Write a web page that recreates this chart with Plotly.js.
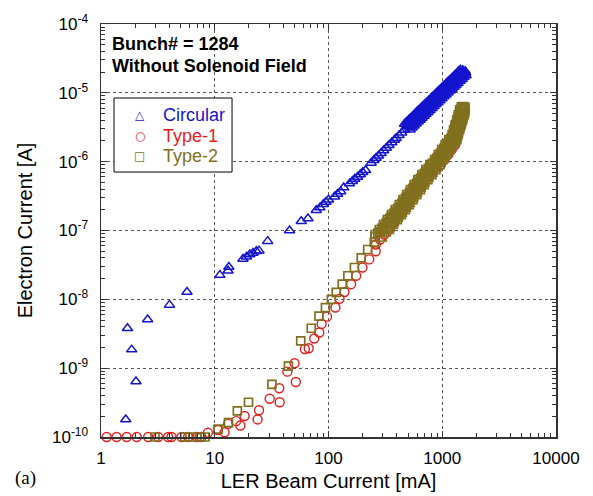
<!DOCTYPE html>
<html>
<head>
<meta charset="utf-8">
<script src="https://cdn.plot.ly/plotly-3.0.1.min.js"></script>
<style>
html,body{margin:0;padding:0;background:#fff;}
#chart{width:593px;height:496px;}
</style>
</head>
<body>
<div id="chart"></div>
<script>
// ---- Data ----
const circularX = [1.65,1.71,1.86,2.03,2.57,4.0,5.7,
  11.1,13.1,13.3,17.7,19.0,20.3,21.7,23.2,24.5,29.2,45.5,57.6,66,
  78,84,90,95,100,113,120,128,136,
  153,162,170,180,190,200,212,
  237,250,262,275,290,305,322,340,360,380,393,417,440,465,
  493,513,535,557,580,604,628,654,681,709,739,769,801,834,868,904,941,980,
  1020,1062,1106,1152,1199,1249,1300,1354,1410,1468,1529,1592,
  466,485,506,526,548,571,593,618,644,670,698,727,757,788,820,854,889,926,964,1004,
  1045,1089,1133,1180,1229,1280,1332,1387,1445,
  522,543,566,589,614,639,664,692,720,750,782,814,847,882,918,956,996,1037,1079,1124,
  1170,1219,1269,1321,1375,1433,1492,1553,1618,
  489,509,531,553,575,599,623,649,676,703,733,763,795,827,861,897,933,972,1012,1054,
  1097,1143,1189,1239,1290,1343,1399,1456,1517,
  518,539,562,585,609,634,659,687,715,744,776,807,841,876,911,949,988,1029,1071,1115,
  1161,1210,1259,1311,1365,1422,1481,1541,1605];
const circularY = [1.8e-10,3.8e-9,1.86e-9,6.4e-10,5.1e-9,8.3e-9,1.28e-8,
  2.25e-8,2.6e-8,2.95e-8,3.86e-8,4.14e-8,4.47e-8,4.72e-8,4.99e-8,5.1e-8,7.0e-8,1.0e-7,1.36e-7,1.49e-7,
  1.97e-7,2.15e-7,2.4e-7,2.6e-7,2.8e-7,3.1e-7,3.4e-7,3.7e-7,4.2e-7,
  4.8e-7,5.2e-7,5.6e-7,6.0e-7,6.5e-7,7.0e-7,7.5e-7,
  9.6e-7,1.05e-6,1.13e-6,1.22e-6,1.33e-6,1.45e-6,1.58e-6,1.73e-6,1.90e-6,2.07e-6,2.19e-6,2.41e-6,2.63e-6,2.88e-6,
  3.3e-6,3.3e-6,3.8e-6,3.75e-6,4.3e-6,4.3e-6,4.9e-6,4.9e-6,5.55e-6,5.55e-6,6.35e-6,6.3e-6,7.25e-6,7.2e-6,8.2e-6,8.2e-6,9.35e-6,9.35e-6,
  1.07e-5,1.06e-5,1.21e-5,1.21e-5,1.39e-5,1.37e-5,1.57e-5,1.57e-5,1.79e-5,1.79e-5,2.03e-5,2.06e-5,
  3.53e-6,3.77e-6,4.03e-6,4.29e-6,4.58e-6,4.88e-6,5.21e-6,5.57e-6,5.93e-6,6.33e-6,6.75e-6,7.21e-6,7.70e-6,8.21e-6,8.73e-6,9.34e-6,9.96e-6,1.06e-5,1.13e-5,1.21e-5,
  1.29e-5,1.38e-5,1.47e-5,1.56e-5,1.67e-5,1.78e-5,1.90e-5,2.04e-5,2.17e-5,
  2.92e-6,3.12e-6,3.33e-6,3.55e-6,3.79e-6,4.04e-6,4.32e-6,4.61e-6,4.91e-6,5.24e-6,5.59e-6,5.97e-6,6.38e-6,6.80e-6,7.23e-6,7.73e-6,8.24e-6,8.81e-6,9.38e-6,1.00e-5,
  1.07e-5,1.14e-5,1.22e-5,1.29e-5,1.38e-5,1.48e-5,1.58e-5,1.69e-5,1.79e-5,
  3.48e-6,3.71e-6,3.96e-6,4.22e-6,4.51e-6,4.81e-6,5.13e-6,5.48e-6,5.84e-6,6.23e-6,6.65e-6,7.09e-6,7.58e-6,8.08e-6,8.60e-6,9.19e-6,9.80e-6,1.05e-5,1.12e-5,1.19e-5,
  1.27e-5,1.35e-5,1.45e-5,1.54e-5,1.65e-5,1.75e-5,1.87e-5,2.00e-5,2.13e-5,
  3.17e-6,3.39e-6,3.61e-6,3.85e-6,4.11e-6,4.38e-6,4.68e-6,4.99e-6,5.32e-6,5.68e-6,6.06e-6,6.46e-6,6.91e-6,7.36e-6,7.84e-6,8.38e-6,8.93e-6,9.54e-6,1.02e-5,1.09e-5,
  1.15e-5,1.23e-5,1.32e-5,1.40e-5,1.50e-5,1.60e-5,1.71e-5,1.83e-5,1.94e-5];

const type1X = [1.12,1.37,1.68,2.06,2.6,3.18,3.89,4.17,5.1,5.83,6.92,7.64,
  8.7,10.7,12.2,13.1,15.4,16.8,18.3,23.8,24.5,30.4,37.2,36.9,43.5,50.3,51.6,62,67,75,83,87,97,
  115,125,138,158,175,199,228,260,
  261,284,309,336,364,387,420,455,493,531,573,617,665,718,778,844,972,1050,1129,1211,1300,1327,1382,1439];
const type1Y = [1e-10,1e-10,1e-10,1e-10,1e-10,1e-10,1e-10,1e-10,1e-10,1e-10,1e-10,1e-10,
  1.15e-10,1.26e-10,1.17e-10,1.55e-10,1.7e-10,1.47e-10,2.02e-10,1.8e-10,2.45e-10,3.6e-10,3.2e-10,5.1e-10,8.9e-10,1.18e-9,6.3e-10,1.9e-9,1.95e-9,2.7e-9,3.3e-9,4.4e-9,5.6e-9,
  7.6e-9,1.02e-8,1.28e-8,1.66e-8,2.2e-8,2.9e-8,3.8e-8,5.0e-8,
  6.27e-8,7.41e-8,8.75e-8,1.034e-7,1.222e-7,1.443e-7,1.706e-7,2.015e-7,2.381e-7,2.813e-7,3.323e-7,3.927e-7,4.64e-7,5.48e-7,6.48e-7,7.66e-7,9.05e-7,1.069e-6,1.263e-6,1.493e-6,1.764e-6,2.084e-6,2.91e-6,4.06e-6];

const type2X = [2.98,5.45,6.03,7.4,8.2,
  10.7,13.2,15.8,19.8,31.8,44.4,57,70.5,82.5,94,106,117,132,148,169,194,221,253,
  257,280,304,329,357,387,420,452,487,525,566,611,662,718,778,858,922,990,1062,1143,1221,1259,1300,1341,1382,1424,
  343,372,403,437,474,513,553,596,643,692,747,811,879,953,1008,1084,1164,1249,1343,1379,1421,1468,1513,1560,1592,
  285,310,336,364,395,428,464,500,539,581,626,676,733,794,861,930,1000,1073,1152,1239,1298,1338,1382,1424,1468,1513,
  257,280,304,329,357,387,420,452,487,525,566,611,662,718,778,858,922,990,1062,1143,1221,1259,1300,1341,1382,1424,
  297,323,350,379,411,446,483,521,561,605,652,704,763,827,896,968,1041,1117,1199,1290,1351,1393,1439,1482,1528,1575,
  271,295,320,346,376,407,442,476,513,553,596,643,697,756,819,894,961,1031,1107,1191,1259,1298,1341,1382,1425,1468,
  326,354,383,416,451,488,526,567,612,659,711,772,836,907,969,1042,1118,1200,1291,1338,1379,1425,1468,1514,1552,
  1475,1530,1585];
const type2Y = [1e-10,1e-10,1e-10,1e-10,1e-10,
  1.3e-10,1.62e-10,2.4e-10,3.2e-10,5.8e-10,1.07e-9,2.5e-9,3.8e-9,5.7e-9,7.6e-9,1.0e-8,1.26e-8,1.66e-8,2.2e-8,2.9e-8,4.0e-8,5.3e-8,6.8e-8,
  8.75e-8,1.034e-7,1.222e-7,1.443e-7,1.706e-7,2.015e-7,2.381e-7,2.813e-7,3.323e-7,3.927e-7,4.64e-7,5.48e-7,6.48e-7,7.66e-7,9.05e-7,1.069e-6,1.263e-6,1.493e-6,1.764e-6,2.084e-6,2.462e-6,2.91e-6,3.44e-6,4.06e-6,4.80e-6,5.67e-6,
  1.034e-7,1.222e-7,1.443e-7,1.706e-7,2.015e-7,2.381e-7,2.813e-7,3.323e-7,3.927e-7,4.64e-7,5.48e-7,6.48e-7,7.66e-7,9.05e-7,1.069e-6,1.263e-6,1.493e-6,1.764e-6,2.084e-6,2.462e-6,2.91e-6,3.44e-6,4.06e-6,4.80e-6,5.67e-6,
  9.51e-8,1.124e-7,1.328e-7,1.569e-7,1.854e-7,2.19e-7,2.588e-7,3.058e-7,3.612e-7,4.269e-7,5.04e-7,5.96e-7,7.04e-7,8.33e-7,9.84e-7,1.162e-6,1.373e-6,1.623e-6,1.917e-6,2.265e-6,2.676e-6,3.163e-6,3.739e-6,4.413e-6,5.22e-6,6.16e-6,
  8.05e-8,9.51e-8,1.124e-7,1.328e-7,1.569e-7,1.854e-7,2.19e-7,2.588e-7,3.057e-7,3.613e-7,4.269e-7,5.04e-7,5.96e-7,7.05e-7,8.33e-7,9.83e-7,1.162e-6,1.374e-6,1.623e-6,1.917e-6,2.265e-6,2.677e-6,3.165e-6,3.735e-6,4.416e-6,5.22e-6,
  8.05e-8,9.51e-8,1.124e-7,1.328e-7,1.569e-7,1.854e-7,2.19e-7,2.588e-7,3.057e-7,3.613e-7,4.269e-7,5.04e-7,5.96e-7,7.05e-7,8.33e-7,9.83e-7,1.162e-6,1.374e-6,1.623e-6,1.917e-6,2.265e-6,2.677e-6,3.165e-6,3.735e-6,4.416e-6,5.22e-6,
  9.13e-8,1.078e-7,1.275e-7,1.505e-7,1.779e-7,2.102e-7,2.483e-7,2.934e-7,3.466e-7,4.096e-7,4.84e-7,5.72e-7,6.76e-7,7.99e-7,9.44e-7,1.115e-6,1.317e-6,1.557e-6,1.840e-6,2.174e-6,2.568e-6,3.035e-6,3.588e-6,4.235e-6,5.01e-6,5.91e-6,
  1.078e-7,1.275e-7,1.505e-7,1.779e-7,2.102e-7,2.483e-7,2.934e-7,3.466e-7,4.096e-7,4.84e-7,5.72e-7,6.76e-7,7.99e-7,9.44e-7,1.115e-6,1.317e-6,1.557e-6,1.840e-6,2.174e-6,2.568e-6,3.035e-6,3.588e-6,4.235e-6,5.01e-6,5.91e-6,
  6.27e-6,6.3e-6,6.2e-6];

const seriesNames = ['Circular','Type-1','Type-2'];
const xTickVals = [1,10,100,1000,10000];
const xTickText = ['1','10','100','1000','10000'];
const yTickVals = [1e-10,1e-9,1e-8,1e-7,1e-6,1e-5,1e-4];
const yTickText = ['10<sup>-10</sup>','10<sup>-9</sup>','10<sup>-8</sup>','10<sup>-7</sup>','10<sup>-6</sup>','10<sup>-5</sup>','10<sup>-4</sup>'];

// ---- Styling ----
const BLUE = 'rgb(20,20,205)';
const RED = 'rgb(225,30,30)';
const OLIVE = 'rgb(128,112,30)';
const COLORS = [BLUE, RED, OLIVE];
const LEGEND_SYMBOLS = ['\u25B3', '\u25CB', '\u25A1'];

const xMinor = [];
for (let k = 0; k < 4; k++) for (let m = 2; m <= 9; m++) xMinor.push(m * Math.pow(10, k));
const yMinor = [];
for (let k = -10; k < -4; k++) for (let m = 2; m <= 9; m++) yMinor.push(m * Math.pow(10, k));

const traces = [
  {x: circularX, y: circularY, name: seriesNames[0], type: 'scatter', mode: 'markers', cliponaxis: false,
   marker: {symbol: 'triangle-up-open', size: 9, color: BLUE, line: {width: 1.5, color: BLUE}}},
  {x: type1X, y: type1Y, name: seriesNames[1], type: 'scatter', mode: 'markers', cliponaxis: false,
   marker: {symbol: 'circle-open', size: 9, color: RED, line: {width: 1.4, color: RED}}},
  {x: type2X, y: type2Y, name: seriesNames[2], type: 'scatter', mode: 'markers', cliponaxis: false,
   marker: {symbol: 'square-open', size: 8, color: OLIVE, line: {width: 1.7, color: OLIVE}}}
];

const axisCommon = {
  type: 'log', showline: true, linecolor: '#333', linewidth: 1.5, mirror: 'ticks',
  ticks: 'inside', ticklen: 6, tickcolor: '#333', tickwidth: 1,
  showgrid: true, gridcolor: '#555', griddash: 'dot', gridwidth: 1, zeroline: false,
  tickfont: {size: 17, color: '#000'}
};

// Legend drawn as a framed box with text entries
const legBox = {x0: 0.0286, x1: 0.288, y0: 0.6416, y1: 0.8208};
const legRows = [0.7797, 0.730, 0.6804];
const annotations = [
  {text: '<b>Bunch# = 1284</b>', xref: 'paper', yref: 'paper', x: 0.02, y: 0.952,
   xanchor: 'left', yanchor: 'middle', showarrow: false, font: {size: 18, color: '#000'}},
  {text: '<b>Without Solenoid Field</b>', xref: 'paper', yref: 'paper', x: 0.02, y: 0.898,
   xanchor: 'left', yanchor: 'middle', showarrow: false, font: {size: 18, color: '#000'}},
  {text: '(a)', xref: 'paper', yref: 'paper', x: -0.193, y: -0.099,
   xanchor: 'left', yanchor: 'middle', showarrow: false,
   font: {size: 19, color: '#000', family: '"Liberation Serif", "Times New Roman", serif'}}
];
seriesNames.forEach((nm, i) => {
  annotations.push({text: LEGEND_SYMBOLS[i], xref: 'paper', yref: 'paper', x: 0.0857, y: legRows[i],
    xanchor: 'center', yanchor: 'middle', showarrow: false,
    font: {size: 12, color: COLORS[i], family: '"DejaVu Sans", sans-serif'}});
  annotations.push({text: nm, xref: 'paper', yref: 'paper', x: 0.132, y: legRows[i],
    xanchor: 'left', yanchor: 'middle', showarrow: false, font: {size: 18, color: COLORS[i]}});
});

const layout = {
  width: 593, height: 496,
  margin: {l: 101, r: 37, t: 24, b: 59, pad: 0},
  paper_bgcolor: '#fff', plot_bgcolor: '#fff',
  font: {family: '"Liberation Sans", Arial, sans-serif', color: '#000'},
  showlegend: false,
  xaxis: Object.assign({}, axisCommon, {
    range: [0, 4], tickmode: 'array', tickvals: xTickVals, ticktext: xTickText,
    ticklabelstandoff: 5,
    minor: {tickmode: 'array', tickvals: xMinor, ticks: 'inside', ticklen: 4, tickcolor: '#333', showgrid: false},
    title: {text: 'LER Beam Current [mA]', font: {size: 20, color: '#000'}, standoff: 7}
  }),
  yaxis: Object.assign({}, axisCommon, {
    range: [-10, -4], tickmode: 'array', tickvals: yTickVals, ticktext: yTickText,
    ticklabelstandoff: 8,
    minor: {tickmode: 'array', tickvals: yMinor, ticks: 'inside', ticklen: 4, tickcolor: '#333', showgrid: false},
    title: {text: 'Electron Current [A]', font: {size: 20, color: '#000'}, standoff: 14}
  }),
  shapes: [
    {type: 'rect', xref: 'paper', yref: 'paper', x0: legBox.x0, x1: legBox.x1, y0: legBox.y0, y1: legBox.y1,
     fillcolor: '#fff', line: {color: '#000', width: 1}, layer: 'above'}
  ],
  annotations: annotations
};

Plotly.newPlot('chart', traces, layout, {staticPlot: true, displayModeBar: false});
</script>
</body>
</html>
